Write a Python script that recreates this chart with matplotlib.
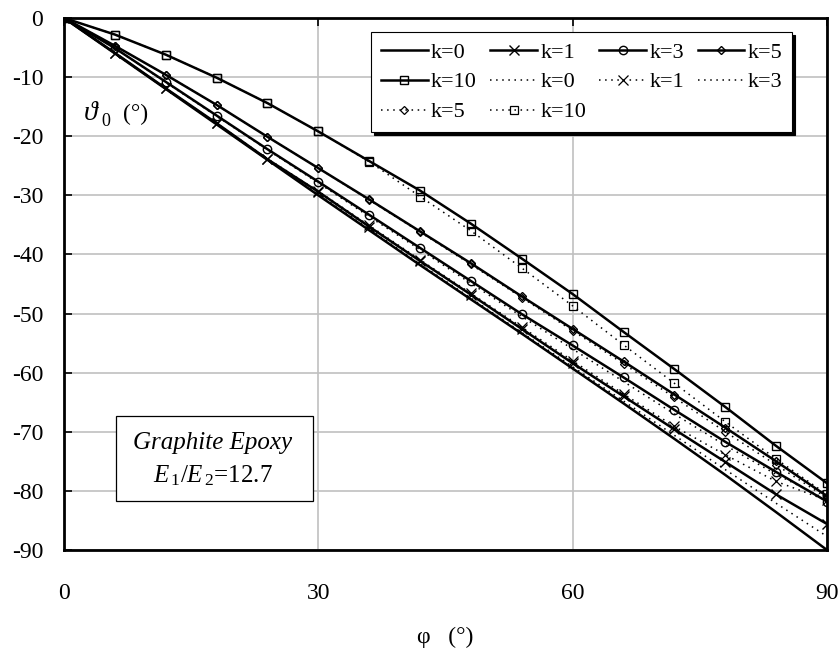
import matplotlib
matplotlib.use("Agg")
import matplotlib.pyplot as plt
from matplotlib.patches import Rectangle

plt.rcParams['font.family'] = ['Liberation Serif', 'DejaVu Serif']
plt.rcParams['mathtext.fontset'] = 'custom'
plt.rcParams['mathtext.rm'] = 'Liberation Serif'
plt.rcParams['mathtext.it'] = 'Liberation Serif:italic'

# fibre angle phi (deg)
phi = [0, 6, 12, 18, 24, 30, 36, 42, 48, 54, 60, 66, 72, 78, 84, 90]

# theta_0 (deg), solid curves
k0_solid = [0, -6.0, -12.0, -18.0, -24.0, -30.0, -35.9, -41.8, -47.6, -53.4, -59.3, -65.2, -71.2, -77.3, -83.6, -90.0]
k1_solid = [0, -5.9, -11.9, -17.8, -23.9, -29.4, -35.3, -41.1, -46.8, -52.6, -58.4, -64.0, -69.6, -75.1, -80.6, -85.6]
k3_solid = [0, -5.1, -10.8, -16.5, -22.2, -27.7, -33.3, -38.9, -44.5, -50.1, -55.4, -60.8, -66.3, -71.7, -76.8, -81.8]
k5_solid = [0, -4.7, -9.6, -14.7, -20.1, -25.4, -30.7, -36.1, -41.5, -47.1, -52.6, -58.1, -63.7, -69.3, -75.0, -80.9]
k10_solid = [0, -2.8, -6.2, -10.1, -14.4, -19.2, -24.2, -29.2, -34.8, -40.7, -46.7, -53.1, -59.4, -65.8, -72.4, -78.7]

# theta_0 (deg), dotted curves
k0_dot = [0, -6.0, -12.0, -17.9, -23.9, -29.8, -35.7, -41.6, -47.4, -53.2, -59.0, -64.8, -70.6, -76.4, -82.1, -87.7]
k1_dot = [0, -5.9, -11.9, -17.8, -23.8, -29.3, -35.1, -40.9, -46.6, -52.3, -58.0, -63.6, -69.1, -73.9, -78.4, -81.6]
k3_dot = [0, -5.1, -10.9, -16.6, -22.3, -27.9, -33.6, -39.2, -44.9, -50.5, -56.0, -61.5, -67.0, -72.3, -77.2, -81.5]
k5_dot = [0, -4.7, -9.6, -14.7, -20.1, -25.4, -30.8, -36.2, -41.7, -47.3, -52.9, -58.5, -64.2, -70.0, -75.6, -81.2]
k10_dot = [0, -2.8, -6.2, -10.1, -14.4, -19.2, -24.3, -30.2, -36.0, -42.3, -48.7, -55.3, -61.8, -68.3, -74.6, -80.6]

x_ticks = [0, 30, 60, 90]
y_ticks = [0, -10, -20, -30, -40, -50, -60, -70, -80, -90]

W, H = 839, 652


def fx(px):
    return px / W


def fy(py):
    return 1 - py / H


fig = plt.figure(figsize=(W / 100, H / 100), dpi=100)
ax = fig.add_axes([fx(64), fy(550), (827 - 64) / W, (550 - 18) / H])

solid_kw = dict(color='black', lw=1.8, mfc='none', mew=1.0)
dot_kw = dict(color='black', lw=1.1, ls=(0, (1, 3)), mfc='none', mew=0.9)

h = {}
h['k0s'], = ax.plot(phi, k0_solid, label='k=0', **solid_kw)
h['k1s'], = ax.plot(phi, k1_solid, marker='x', ms=7, label='k=1', **solid_kw)
h['k3s'], = ax.plot(phi, k3_solid, marker='o', ms=6, label='k=3', **solid_kw)
h['k5s'], = ax.plot(phi, k5_solid, marker='D', ms=4.5, label='k=5', **solid_kw)
h['k10s'], = ax.plot(phi, k10_solid, marker='s', ms=6, label='k=10', **solid_kw)
h['k0d'], = ax.plot(phi, k0_dot, label='k=0', **dot_kw)
h['k1d'], = ax.plot(phi, k1_dot, marker='x', ms=7, label='k=1', **dot_kw)
h['k3d'], = ax.plot(phi, k3_dot, label='k=3', **dot_kw)
h['k5d'], = ax.plot(phi, k5_dot, marker='D', ms=4.5, label='k=5', **dot_kw)
h['k10d'], = ax.plot(phi, k10_dot, marker='s', ms=6, label='k=10', **dot_kw)

ax.set_xlim(0, 90)
ax.set_ylim(-90, 0)
ax.set_xticks(x_ticks)
ax.set_xticklabels([str(t) for t in x_ticks])
ax.set_yticks(y_ticks)
ax.set_yticklabels([str(t) for t in y_ticks])
ax.grid(True, color='#c0c0c0', lw=1.2)
ax.set_axisbelow(True)
for s in ax.spines.values():
    s.set_linewidth(2.0)
ax.tick_params(axis='x', direction='in', top=True, bottom=False, labeltop=False,
               labelbottom=True, length=6, width=1.2, pad=24, labelsize=17)
ax.tick_params(axis='y', direction='in', left=True, right=False, length=6, width=1.2,
               pad=15, labelsize=17)

# legend filled column-wise, so reorder to read row by row like the original
order = ['k0s', 'k10s', 'k5d', 'k1s', 'k0d', 'k10d', 'k3s', 'k1d', 'k5s', 'k3d']
handles = [h[o] for o in order]
leg = ax.legend(handles=handles, labels=[hh.get_label() for hh in handles], ncol=4,
                loc='upper left', bbox_to_anchor=(fx(371), fy(32)), bbox_transform=fig.transFigure,
                borderaxespad=0, fontsize=16, handlelength=2.1, handletextpad=0.15,
                columnspacing=0.6, labelspacing=0.42, borderpad=0.45, fancybox=False,
                framealpha=1, edgecolor='black', shadow={'color': 'black', 'alpha': 1})
leg.get_frame().set_linewidth(0.8)

# y label inside the plot area
fig.text(fx(84), fy(114), 'ϑ', fontsize=20, style='italic', va='center', ha='left')
fig.text(fx(101), fy(122), '0', fontsize=13, va='center', ha='left')
fig.text(fx(123), fy(114), '(°)', fontsize=17, va='center', ha='left')

# x label
fig.text(fx(445), fy(637), 'φ   (°)', fontsize=17, va='center', ha='center')

# material box
fig.patches.append(Rectangle((fx(116), fy(501)), fx(313 - 116), (501 - 416) / H,
                             transform=fig.transFigure, facecolor='white',
                             edgecolor='black', lw=0.9, zorder=5))
fig.text(fx(213), fy(443), 'Graphite Epoxy', fontsize=18, style='italic',
         ha='center', va='center', zorder=6)
fig.text(fx(213), fy(476), r'$E_{\,1}$/$E_{\,2}$=12.7', fontsize=18,
         ha='center', va='center', zorder=6)

fig.savefig('out.png', dpi=100)
